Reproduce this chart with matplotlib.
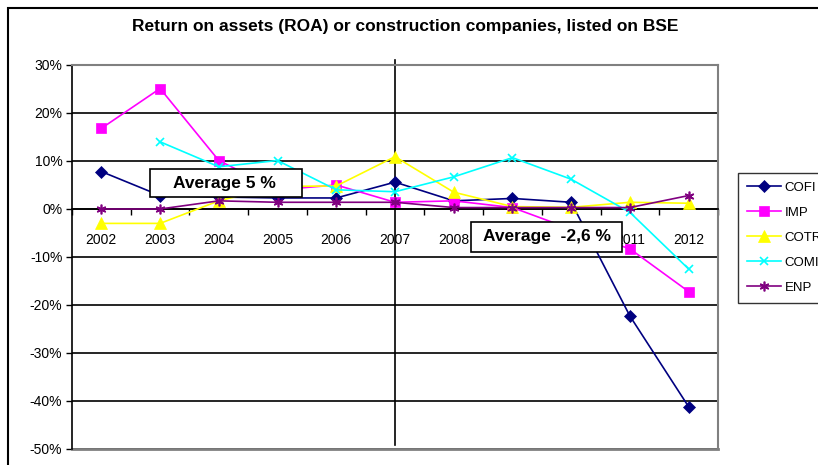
import matplotlib
matplotlib.use("Agg")
import matplotlib.pyplot as plt
from matplotlib.patches import Rectangle
from matplotlib.ticker import FixedLocator, FuncFormatter
import numpy as np

plt.rcParams["font.family"] = ["Liberation Sans", "DejaVu Sans"]

years = ["2002", "2003", "2004", "2005", "2006", "2007", "2008", "2009", "2010", "2011", "2012"]

# ROA in %
cofi = [7.8, 2.8, 2.5, 2.3, 2.3, 5.6, 1.7, 2.2, 1.4, -22.3, -41.2]
imp = [16.8, 25.1, 10.1, 4.0, 5.0, 1.4, 1.7, 0.3, -4.2, -8.3, -17.2]
cotr = [-3.0, -3.0, 1.7, 4.7, 4.8, 10.9, 3.5, 0.5, 0.35, 1.4, 1.2]
comi = [np.nan, 14.0, 8.8, 10.1, 4.0, 3.6, 6.7, 10.7, 6.2, -0.7, -12.5]
enp = [0.0, 0.0, 1.7, 1.4, 1.4, 1.4, 0.3, 0.3, 0.3, 0.3, 2.8]

series = [
    ("COFI", cofi, "#000080", "D", 6),
    ("IMP", imp, "#FF00FF", "s", 7),
    ("COTR", cotr, "#FFFF00", "^", 8),
    ("COMI", comi, "#00FFFF", "x", 6),
    ("ENP", enp, "#800080", (6, 2, 0), 7),
]

fig = plt.figure(figsize=(8.18, 4.65), dpi=100)
ax = fig.add_axes([72 / 818, 16 / 465, 646 / 818, 384 / 465])

x = np.arange(len(years))
for name, vals, color, marker, ms in series:
    thin = marker == "x" or isinstance(marker, tuple)
    ax.plot(x, vals, color=color, marker=marker, markersize=ms, lw=1.2,
            markeredgewidth=1.2 if thin else 0.5,
            markeredgecolor=color, label=name, zorder=3)

ax.set_xlim(-0.5, len(years) - 0.5)
ax.set_ylim(-50, 30)
ax.set_yticks(np.arange(-50, 31, 10))
ax.yaxis.set_major_formatter(FuncFormatter(lambda v, p: f"{int(v)}%"))
ax.grid(axis="y", color="black", lw=1.2, zorder=1)

ax.set_xticks(x)
ax.set_xticklabels(years)
ax.xaxis.set_minor_locator(FixedLocator(np.arange(-0.5, len(years), 1.0)))
ax.tick_params(axis="x", which="major", length=0, pad=17, labelsize=10)
ax.tick_params(axis="x", which="minor", length=4, direction="out", width=1)
ax.tick_params(axis="y", length=4, width=1, labelsize=10, pad=3)

ax.spines["bottom"].set_position(("data", 0))
ax.spines["bottom"].set_color("black")
ax.spines["bottom"].set_linewidth(1.2)
ax.spines["left"].set_color("black")
ax.spines["left"].set_linewidth(1.2)
for s in ("top", "right"):
    ax.spines[s].set_color("#808080")
    ax.spines[s].set_linewidth(1.5)
ax.axhline(-50, color="#808080", lw=2, zorder=2, clip_on=False)

# vertical separator at 2007
ax.axvline(5, ymin=4 / 384, ymax=389 / 384, color="black", lw=1.2, clip_on=False, zorder=2)

# average annotations (box drawn separately for the wide side padding)
ax.add_patch(Rectangle((0.83, 2.5), 2.59, 5.83, facecolor="white", edgecolor="black",
                       lw=1.2, zorder=5))
ax.text(2.1, 5.4, "Average 5 %", ha="center", va="center", fontsize=12.5,
        fontweight="bold", zorder=6)
ax.add_patch(Rectangle((6.29, -8.9), 2.58, 6.25, facecolor="white", edgecolor="black",
                       lw=1.2, zorder=5))
ax.text(7.58, -5.7, "Average  -2,6 %", ha="center", va="center", fontsize=12.5,
        fontweight="bold", zorder=6)

fig.text(405 / 818, 1 - 27 / 465, "Return on assets (ROA) or construction companies, listed on BSE",
         ha="center", va="center", fontsize=12.5, fontweight="bold")

leg = fig.legend(loc="upper left", bbox_to_anchor=(738 / 818, 1 - 173 / 465),
                 fontsize=9.5, frameon=True, fancybox=False, edgecolor="black",
                 handlelength=2.6, labelspacing=0.97, borderpad=0.65, handletextpad=0.3,
                 borderaxespad=0)
leg.get_frame().set_linewidth(1.0)

fig.patches.append(Rectangle((8 / 818, -0.1), 1.2, 1.1 - 8 / 465, transform=fig.transFigure,
                             fill=False, edgecolor="black", lw=1.5))

fig.savefig("out.png", dpi=100)
